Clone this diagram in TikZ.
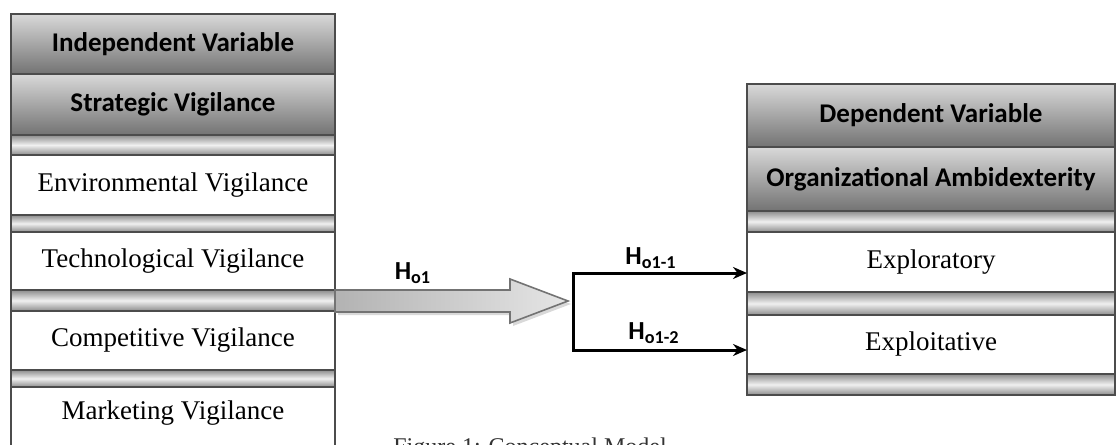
\documentclass[tikz,border=0pt]{standalone}
\usepackage{fontspec}
\setmainfont{Liberation Serif}
\newfontfamily\calib{Carlito}
\usetikzlibrary{arrows.meta,shadows,shadings}
\begin{document}
\begin{tikzpicture}[x=0.5pt,y=-0.5pt,
  box/.style={draw=black!70, line width=0.8pt, inner sep=0pt, outer sep=0pt, rectangle},
  hdr/.style={box, top color=black!15, bottom color=black!55, font=\calib\bfseries\fontsize{13.5}{16}\selectfont},
  barbox/.style={box, top color=black!45, bottom color=black!45, middle color=black!6},
  cellbox/.style={box, fill=white, font=\fontsize{13.5}{16}\selectfont},
  lcol/.style={minimum width=162pt},
  rcol/.style={minimum width=184pt},
  bigarrow/.style={draw=black!55, line width=0.8pt, left color=black!30, right color=black!10,
    drop shadow={shadow xshift=1.5pt, shadow yshift=-1.5pt, opacity=.3}},
  conn/.style={line width=1.5pt, black},
  lbl/.style={font=\calib\bfseries\fontsize{13}{15}\selectfont, inner sep=1pt},
  tip/.style={-{Stealth[length=7pt,width=6pt]}}
]
\useasboundingbox (0,0) rectangle (1116,445);
% left column
\node[hdr,lcol,minimum height=30pt] (iv) at (173,44) {Independent Variable};
\node[hdr,lcol,minimum height=30.5pt] (sv) at (173,104.5) {Strategic Vigilance};
\node[barbox,lcol,minimum height=10pt] (lb1) at (173,145) {};
\node[cellbox,lcol,minimum height=30pt] (env) at (173,185) {Environmental Vigilance};
\node[barbox,lcol,minimum height=8.5pt] (lb2) at (173,223.5) {};
\node[cellbox,lcol,minimum height=29pt] (tech) at (173,261) {Technological Vigilance};
\node[barbox,lcol,minimum height=10.5pt] (lb3) at (173,300.5) {};
\node[cellbox,lcol,minimum height=29.5pt] (comp) at (173,340.5) {Competitive Vigilance};
\node[barbox,lcol,minimum height=8.5pt] (lb4) at (173,378.5) {};
\node[cellbox,lcol,minimum height=46.5pt] (mkt) at (173,433.5) {};
\node[font=\fontsize{13.5}{16}\selectfont, inner sep=0pt] (mktlabel) at (173,413) {Marketing Vigilance};
% right column
\node[hdr,rcol,minimum height=31.5pt] (dv) at (931,115.5) {Dependent Variable};
\node[hdr,rcol,minimum height=32pt] (oa) at (931,179) {Organizational Ambidexterity};
\node[barbox,rcol,minimum height=10.5pt] (rb1) at (931,221.5) {};
\node[cellbox,rcol,minimum height=30pt] (expl) at (931,262) {Exploratory};
\node[barbox,rcol,minimum height=11.5pt] (rb2) at (931,303.5) {};
\node[cellbox,rcol,minimum height=29.5pt] (exploit) at (931,344.5) {Exploitative};
\node[barbox,rcol,minimum height=10.5pt] (rb3) at (931,384.5) {};
% block arrow
\coordinate (atip) at (568,301);
\path[bigarrow] (lb3.east |- 0,290) -- (510,290) -- (510,279) -- (atip) -- (510,323) -- (510,312) -- (lb3.east |- 0,312) -- cycle;
% bracket connectors
\coordinate (b1) at (573,273);
\coordinate (b2) at (573,350);
\draw[conn, line cap=rect] (b1) -- (b2);
\draw[conn,tip] (b1) -- (expl.west |- b1);
\draw[conn,tip] (b2) -- (exploit.west |- b2);
% labels
\node[lbl] (h1) at (413,273) {H\textsubscript{o1}};
\node[lbl] (h11) at (651,258) {H\textsubscript{o1-1}};
\node[lbl] (h12) at (654,333) {H\textsubscript{o1-2}};
% caption (cut off by page edge, as in the reference)
\node[anchor=north west, inner sep=0pt, font=\fontsize{12}{14}\selectfont, text=black!80] (cap) at (393,437) {Figure 1: Conceptual Model};
\end{tikzpicture}
\end{document}
